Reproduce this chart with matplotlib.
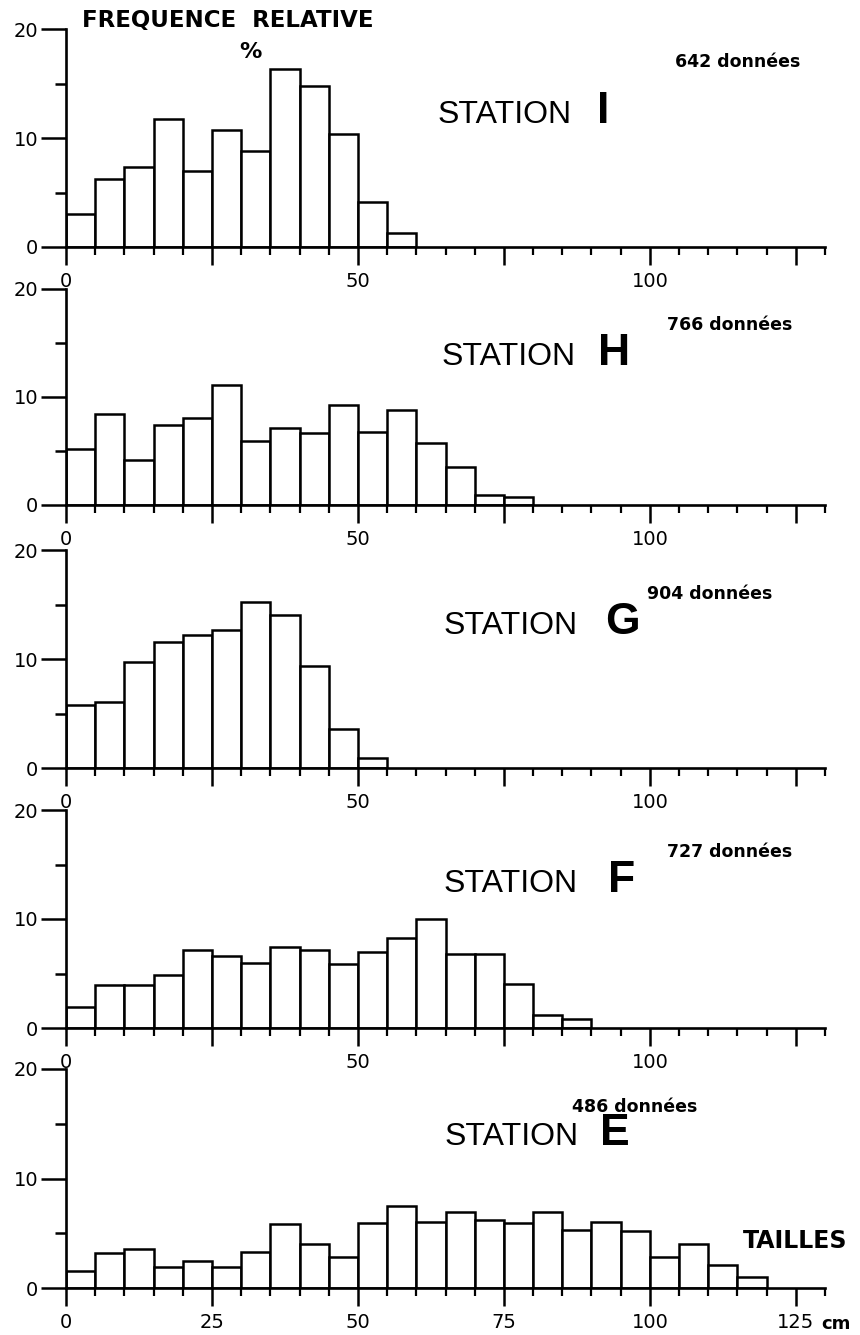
import matplotlib.pyplot as plt
from matplotlib.ticker import MultipleLocator, FixedLocator

# relative frequency (%) per 5 cm size class, starting at 0 cm
freq_I = [3.0, 6.2, 7.3, 11.7, 7.0, 10.7, 8.8, 16.3, 14.8, 10.4, 4.1, 1.3]
freq_H = [5.2, 8.4, 4.2, 7.4, 8.1, 11.1, 5.9, 7.1, 6.7, 9.3, 6.8, 8.8,
          5.7, 3.5, 0.9, 0.7]
freq_G = [5.8, 6.1, 9.7, 11.6, 12.2, 12.7, 15.2, 14.0, 9.4, 3.6, 0.9]
freq_F = [1.9, 3.9, 3.9, 4.9, 7.2, 6.6, 6.0, 7.4, 7.2, 5.9, 7.0, 8.3,
          10.0, 6.8, 6.8, 4.0, 1.2, 0.8]
freq_E = [1.55, 3.2, 3.6, 1.9, 2.5, 1.9, 3.3, 5.8, 4.0, 2.8, 5.9, 7.5,
          6.0, 6.9, 6.2, 5.9, 6.9, 5.3, 6.0, 5.2, 2.8, 4.0, 2.1, 1.0]

stations = ["I", "H", "G", "F", "E"]
counts = [642, 766, 904, 727, 486]
freqs = [freq_I, freq_H, freq_G, freq_F, freq_E]
bin_width = 5

W, H = 860, 1335
fig = plt.figure(figsize=(W / 100, H / 100), dpi=100)

# pixel layout of each panel: (y of 0 %, y of 20 %) and text spots
panel_px = [(247, 29), (505, 289), (768, 550), (1028, 810), (1288, 1069)]
station_px = [(438, 123, 597), (442, 365, 598), (444, 634, 605),
              (444, 892, 608), (445, 1145, 600)]
count_px = [(675, 67), (667, 330), (647, 599), (667, 857), (572, 1112)]


def fx(x):
    return x / W


def fy(y):
    return 1 - y / H


for i, (st, n, fr) in enumerate(zip(stations, counts, freqs)):
    y0, y20 = panel_px[i]
    ax = fig.add_axes([fx(66), fy(y0), (825 - 66) / W, (y0 - y20) / H])
    left = [k * bin_width for k in range(len(fr))]
    ax.bar(left, fr, width=bin_width, align='edge', color='white',
           edgecolor='black', linewidth=1.8)
    ax.set_xlim(0, 130)
    ax.set_ylim(0, 20)
    for s in ['top', 'right']:
        ax.spines[s].set_visible(False)
    for s in ['left', 'bottom']:
        ax.spines[s].set_linewidth(1.9)

    ax.yaxis.set_major_locator(FixedLocator([0, 10, 20]))
    ax.yaxis.set_minor_locator(FixedLocator([5, 15]))
    ax.tick_params(axis='y', which='major', length=18, width=1.8,
                   labelsize=14, pad=2)
    ax.tick_params(axis='y', which='minor', length=8, width=1.8)

    ax.xaxis.set_major_locator(FixedLocator([0, 25, 50, 75, 100, 125]))
    if i < 4:
        ax.set_xticklabels(['0', '', '50', '', '100', ''])
    else:
        ax.set_xticklabels(['0', '25', '50', '75', '100', '125'])
    ax.xaxis.set_minor_locator(MultipleLocator(5))
    ax.tick_params(axis='x', which='major', direction='out', length=13,
                   width=1.8, labelsize=14, pad=5)
    ax.tick_params(axis='x', which='minor', direction='out', length=6,
                   width=1.6)

    # titles
    sx, sy, lx = station_px[i]
    fig.text(fx(sx), fy(sy), "STATION", fontsize=23, family='Liberation Sans',
             va='baseline', ha='left')
    fig.text(fx(lx), fy(sy), st, fontsize=32, family='Liberation Sans',
             fontweight='bold', va='baseline', ha='left')
    cx, cy = count_px[i]
    fig.text(fx(cx), fy(cy), f"{n} données", fontsize=12.5,
             fontweight='bold', va='baseline', ha='left')

fig.text(fx(82), fy(27), "FREQUENCE  RELATIVE", fontsize=16.5,
         fontweight='bold', va='baseline', ha='left')
fig.text(fx(250), fy(58), "%", fontsize=16, fontweight='bold',
         va='baseline', ha='center')
fig.text(fx(743), fy(1248), "TAILLES", fontsize=17, fontweight='bold',
         va='baseline', ha='left')
fig.text(fx(821), fy(1329), "cm", fontsize=13, fontweight='bold',
         va='baseline', ha='left')

plt.savefig('out.png', dpi=100)
